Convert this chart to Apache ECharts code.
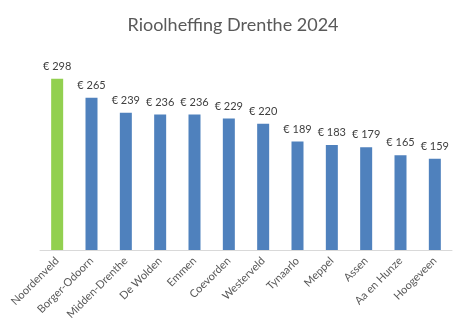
<!DOCTYPE html>
<html>
<head>
<meta charset="utf-8">
<script src="https://cdn.jsdelivr.net/npm/echarts@6/dist/echarts.min.js"></script>
<style>
  html, body { margin: 0; padding: 0; background: #fff; }
  #chart { width: 466px; height: 335px; }
</style>
</head>
<body>
<div id="chart"></div>
<script>
// Municipalities in Drenthe and their 2024 sewer charge (euro)
const gemeenten = ['Noordenveld', 'Borger-Odoorn', 'Midden-Drenthe', 'De Wolden', 'Emmen', 'Coevorden',
  'Westerveld', 'Tynaarlo', 'Meppel', 'Assen', 'Aa en Hunze', 'Hoogeveen'];
const heffing = [298, 265, 239, 236, 236, 229, 220, 189, 183, 179, 165, 159];
const titel = 'Rioolheffing Drenthe 2024';

const FONT = 'Lato, "Open Sans", sans-serif';
const highlight = '#92d050';
const base = '#4f81bd';

const chart = echarts.init(document.getElementById('chart'), null, { renderer: 'canvas' });
chart.setOption({
  animation: false,
  title: {
    text: titel,
    left: 'center',
    top: 11,
    textStyle: { fontFamily: FONT, fontSize: 18, fontWeight: 'normal', color: '#595959' }
  },
  grid: { left: 40, right: 14, top: 49, bottom: 85 },
  xAxis: {
    type: 'category',
    data: gemeenten,
    axisLine: { lineStyle: { color: '#d9d9d9', width: 1 } },
    axisTick: { show: false },
    axisLabel: {
      rotate: 45,
      interval: 0,
      margin: 9,
      fontFamily: FONT,
      fontSize: 11,
      color: '#595959'
    }
  },
  yAxis: {
    type: 'value',
    min: 0,
    max: 350,
    show: false
  },
  series: [{
    type: 'bar',
    barWidth: 12,
    data: heffing.map((v, i) => ({ value: v, itemStyle: { color: i === 0 ? highlight : base } })),
    label: {
      show: true,
      position: 'top',
      distance: 7,
      formatter: p => '€ ' + p.value,
      fontFamily: FONT,
      fontSize: 11,
      color: '#404040'
    }
  }]
});
</script>
</body>
</html>
